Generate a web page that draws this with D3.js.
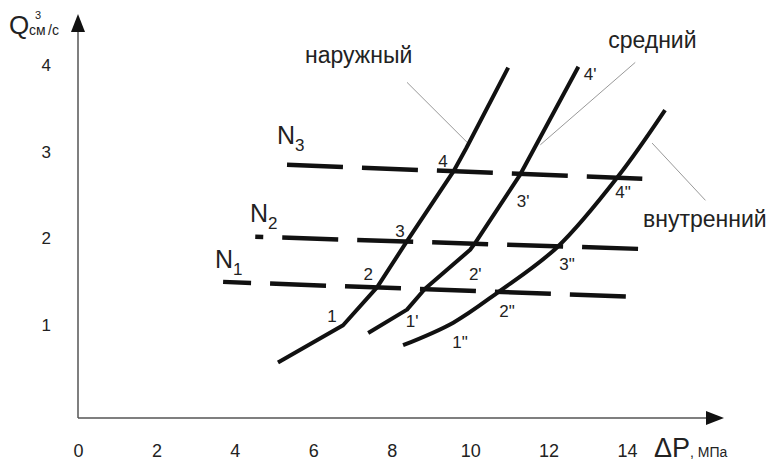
<!DOCTYPE html>
<meta charset="utf-8">
<script src="https://d3js.org/d3.v7.min.js"></script>
<style>
  body { margin: 0; background: #fff; }
  text { font-family: "Liberation Sans", Arial, sans-serif; fill: #222; }
  .narrow { font-family: "Liberation Sans Narrow", "Liberation Sans", Arial, sans-serif; }
</style>
<div id="my_dataviz"></div>
<script>

// tick labels
var xTicks = [0, 2, 4, 6, 8, 10, 12, 14];
var yTicks = [1, 2, 3, 4];

// characteristic curves, [dP MPa, Q cm3/s]
var outer  = [[5.10, 0.57], [6.76, 1.00], [7.63, 1.44], [8.39, 1.97], [9.57, 2.77], [9.90, 3.04], [10.97, 3.97]];
var middle = [[7.40, 0.91], [8.39, 1.18], [8.85, 1.42], [10.0, 1.87], [10.13, 1.95], [11.28, 2.74], [12.76, 3.98]];
var inner  = [[8.29, 0.77], [9.57, 1.03], [10.71, 1.38], [12.22, 1.90], [13.78, 2.72], [14.97, 3.48]];

// power levels N1..N3 (dashed)
var nNames = ["1", "2", "3"];
var n1 = [[3.70, 1.50], [14.01, 1.33]];
var n2 = [[4.52, 2.02], [14.31, 1.88]];
var n3 = [[5.33, 2.85], [14.39, 2.69]];

// point labels [text, dP, Q]
var pointLabels = [
  ["1", 6.48, 1.04], ["2", 7.40, 1.52], ["3", 8.21, 2.02], ["4", 9.31, 2.82],
  ["1'", 8.52, 0.98], ["2'", 10.13, 1.52], ["3'", 11.35, 2.36], ["4'", 13.06, 3.83],
  ["1\"", 9.74, 0.74], ["2\"", 10.94, 1.10], ["3\"", 12.47, 1.64], ["4\"", 13.90, 2.47]
];

// curve names [text, textX, textY, leaderFrom, leaderTo]
var curveNames = [
  ["наружный", 5.79, 4.02, [8.39, 3.80], [9.92, 3.11]],
  ["средний", 13.52, 4.20, [14.21, 4.03], [11.79, 3.08]],
  ["внутренний", 14.41, 2.13, [14.64, 3.10], [16.0, 2.44]]
];

var W = 776, H = 462;

var svg = d3.select("#my_dataviz")
  .append("svg")
    .attr("width", W)
    .attr("height", H);

var x = d3.scaleLinear().domain([0, 14]).range([78, 627]);
var y = d3.scaleLinear().domain([0, 4]).range([412, 65]);

var axisColor = "#555";

// axes lines + arrows
svg.append("line")
  .attr("x1", 78).attr("y1", 418).attr("x2", 78).attr("y2", 28)
  .attr("stroke", axisColor).attr("stroke-width", 1.5);
svg.append("path")
  .attr("d", "M78,14 L71,32 L85,32 Z").attr("fill", "#111");
svg.append("line")
  .attr("x1", 78).attr("y1", 418).attr("x2", 710).attr("y2", 418)
  .attr("stroke", axisColor).attr("stroke-width", 1.5);
svg.append("path")
  .attr("d", "M724,418 L706,411 L706,425 Z").attr("fill", "#111");

// tick labels
var gx = svg.append("g")
  .attr("transform", "translate(0,444)")
  .call(d3.axisBottom(x).tickValues(xTicks).tickFormat(d3.format("d")).tickSize(0).tickPadding(0));
gx.select(".domain").remove();
gx.selectAll("text").attr("class", "narrow").style("font-size", "18px").style("font-family", null).attr("fill", "#333");

var gy = svg.append("g")
  .attr("transform", "translate(51,0)")
  .call(d3.axisLeft(y).tickValues(yTicks).tickFormat(d3.format("d")).tickSize(0).tickPadding(0));
gy.select(".domain").remove();
gy.selectAll("text").attr("class", "narrow").style("font-size", "17px").style("font-family", null).attr("fill", "#333");

// axis titles
svg.append("text").attr("x", 9).attr("y", 34).style("font-size", "26px").text("Q");
svg.append("text").attr("x", 29).attr("y", 35).attr("class", "narrow").style("font-size", "14px").text("см");
svg.append("text").attr("x", 35).attr("y", 19).attr("class", "narrow").style("font-size", "11px").text("3");
svg.append("text").attr("x", 48).attr("y", 35).attr("class", "narrow").style("font-size", "14px").text("/с");

var pt = svg.append("text").attr("x", 654).attr("y", 457);
pt.append("tspan").style("font-size", "27px").text("ΔP");
pt.append("tspan").attr("class", "narrow").style("font-size", "14px").text(", МПа");

// N dashed lines
var line = d3.line()
  .x(function(d) { return x(d[0]); })
  .y(function(d) { return y(d[1]); });

var nLines = [n1, n2, n3];
var offsets = [28, 48, 0];
nLines.forEach(function(d, i) {
  svg.append("path")
    .datum(d)
    .attr("fill", "none")
    .attr("stroke", "#111")
    .attr("stroke-width", 4.5)
    .attr("stroke-dasharray", "56 19")
    .attr("stroke-dashoffset", offsets[i])
    .attr("d", line);
});

// N labels
var nPos = [[215, 268], [250, 222], [277, 144]];
nNames.forEach(function(s, i) {
  var t = svg.append("text").attr("x", nPos[i][0]).attr("y", nPos[i][1]);
  t.append("tspan").style("font-size", "25px").text("N");
  t.append("tspan").attr("dy", 7).style("font-size", "17px").text(s);
});

// curves
svg.append("path").datum(outer)
  .attr("fill", "none").attr("stroke", "#111").attr("stroke-width", 4)
  .attr("stroke-linejoin", "round").attr("d", line);
svg.append("path").datum(middle)
  .attr("fill", "none").attr("stroke", "#111").attr("stroke-width", 4)
  .attr("stroke-linejoin", "round").attr("d", line);
svg.append("path").datum(inner)
  .attr("fill", "none").attr("stroke", "#111").attr("stroke-width", 4)
  .attr("d", line.curve(d3.curveCatmullRom));
line.curve(d3.curveLinear);

// point labels
svg.selectAll(".plabel")
  .data(pointLabels)
  .enter().append("text")
    .attr("class", "plabel")
    .attr("x", function(d) { return x(d[1]); })
    .attr("y", function(d) { return y(d[2]); })
    .attr("text-anchor", "middle")
    .style("font-size", "17px")
    .text(function(d) { return d[0]; });

// curve names + leader lines
curveNames.forEach(function(d) {
  svg.append("line")
    .attr("x1", x(d[3][0])).attr("y1", y(d[3][1]))
    .attr("x2", x(d[4][0])).attr("y2", y(d[4][1]))
    .attr("stroke", "#999").attr("stroke-width", 1);
  svg.append("text")
    .attr("x", x(d[1])).attr("y", y(d[2]))
    .style("font-size", "23px")
    .attr("fill", "#333")
    .text(d[0]);
});

</script>
